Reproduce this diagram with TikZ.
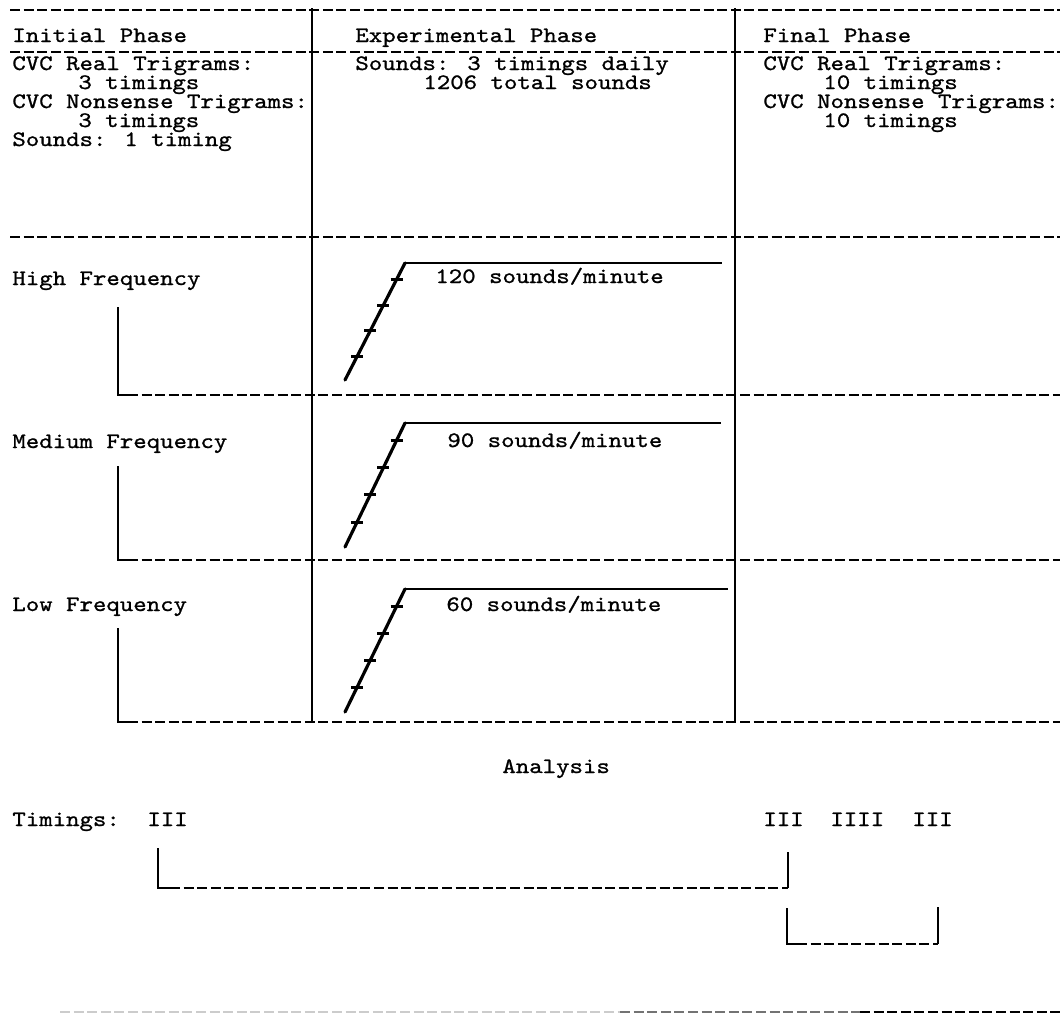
\documentclass[tikz,border=0pt]{standalone}
\usepackage{fontspec}
\usetikzlibrary{calc}
\newfontfamily\inkmono{lmmono10-regular.otf}[FakeBold=1.0, FakeStretch=1.163]
\newcommand\typewriter{\inkmono\fontsize{11}{9.5}\selectfont\setlength{\lineskiplimit}{-100pt}}
\tikzset{
  txt/.style={anchor=base west, inner sep=0pt, align=left, font=\typewriter},
  rule/.style={line width=1.4pt},
  dashrule/.style={line width=0.9pt, dash pattern=on 5pt off 1.8pt},
  ramp/.style={line width=1.6pt, line cap=round},
  plateau/.style={line width=1.1pt},
  tickmark/.style={line width=1.5pt}
}
\begin{document}
\begin{tikzpicture}[x=0.5pt,y=-0.5pt]
  \useasboundingbox (0,0) rectangle (1060,1014);

  % phase headers (multi-line texts sit on their last baseline)
  \node[txt] (initial) at (12,42) {Initial Phase};
  \node[txt] (experimental) at (355,42) {Experimental Phase};
  \node[txt] (final) at (763,42) {Final Phase};
  \node[txt] (initialtests) at (12,146)
    {CVC Real Trigrams:\\\hspace*{33pt}3 timings\\CVC Nonsense Trigrams:\\\hspace*{33pt}3 timings\\Sounds: 1 timing};
  \node[txt] (dailysounds) at (355,89)
    {Sounds: 3 timings daily\\\hspace*{34pt}1206 total sounds};
  \node[txt] (finaltests) at (763,127)
    {CVC Real Trigrams:\\\hspace*{30pt}10 timings\\CVC Nonsense Trigrams:\\\hspace*{30pt}10 timings};

  % frame
  \draw[dashrule] (10,10) -- (1060,10);
  \draw[dashrule] (10,52) -- (1060,52);
  \draw[dashrule] (10,237) -- (1060,237);
  \draw[rule] (312,8) -- (312,723);
  \draw[rule] (735,8) -- (735,723);

  % frequency groups
  \node[txt] (high) at (12,285) {High Frequency};
  \node[txt] (medium) at (12,448) {Medium Frequency};
  \node[txt] (low) at (12,611) {Low Frequency};
  \node[txt] (rate120) at (435,283) {120 sounds/minute};
  \node[txt] (rate90) at (447,447) {90 sounds/minute};
  \node[txt] (rate60) at (446,611) {60 sounds/minute};
  \foreach \yt/\yb in {307/395, 466/560, 628/722} {
    \draw[rule] (118,\yt) -- (118,\yb) -- (128,\yb);
    \draw[dashrule] (128,\yb) -- (1060,\yb);
  }
  \foreach \r/\ya/\yc/\xe in {hi/380/263/722, med/547/423/721, lo/712/589/728} {
    \coordinate (\r0) at (345,\ya);
    \coordinate (\r1) at (405,\yc);
    \coordinate (\r2) at (\xe,\yc);
    \draw[ramp] (\r0) -- (\r1);
    \draw[plateau] (\r1) -- (\r2);
    \foreach \t in {0.2,0.42,0.64,0.86}
      \draw[tickmark] ($(\r0)!\t!(\r1)$) +(-6,0) -- +(6,0);
  }

  % analysis
  \node[txt] (analysis) at (502,773) {Analysis};
  \node[txt] (timings) at (12,826) {Timings:};
  \node[txt] (pre) at (147,826) {III};
  \node[txt] (postA) at (763,826) {III};
  \node[txt] (postB) at (830,826) {IIII};
  \node[txt] (postC) at (912,826) {III};
  \coordinate (preL) at (158,848);
  \coordinate (preR) at (788,852);
  \coordinate (postL) at (787,908);
  \coordinate (postR) at (938,907);
  \draw[rule] (preL) -- (158,888) -- (170,888);
  \draw[dashrule] (170,888) -- (788,888);
  \draw[rule] (788,888) -- (preR);
  \draw[rule] (postL) -- (787,944) -- (797,944);
  \draw[dashrule] (797,944) -- (938,944);
  \draw[rule] (938,944) -- (postR);

  \draw[dashrule, black!20] (60,1012) -- (620,1012);
  \draw[dashrule, black!55] (620,1012) -- (860,1012);
  \draw[dashrule, line width=1.4pt] (860,1012) -- (1060,1012);
\end{tikzpicture}
\end{document}
